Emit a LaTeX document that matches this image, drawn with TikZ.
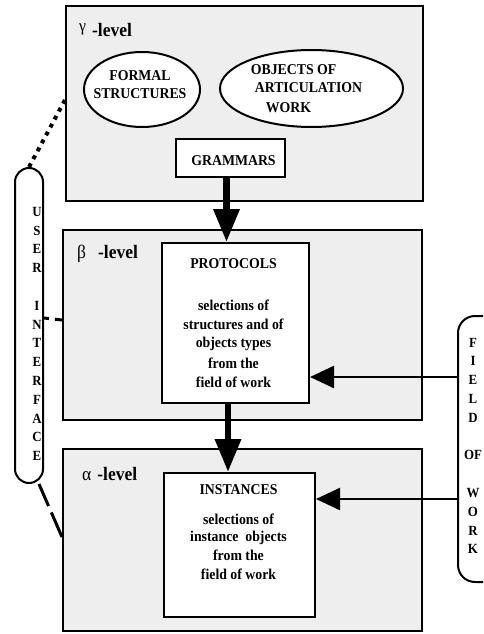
\documentclass[tikz,border=0pt]{standalone}
\usepackage{fontspec}
\setmainfont{Liberation Serif}[FakeStretch=0.92]
\usetikzlibrary{arrows.meta,shapes.geometric}
\definecolor{levelgray}{HTML}{EEEEEE}
\begin{document}
\begin{tikzpicture}[x=1pt,y=-1pt,
  every node/.style={inner sep=0pt},
  levelbox/.style={draw, line width=2pt, fill=levelgray},
  wbox/.style={draw, line width=2pt, fill=white},
  oval/.style={ellipse, draw, line width=2pt, fill=white},
  txt/.style={font=\bfseries\fontsize{15}{18.5}\selectfont, align=center},
  levtxt/.style={font=\bfseries\fontsize{19}{19}\selectfont, anchor=base west},
  pill/.style={draw, line width=2pt, fill=white, rounded corners=14pt},
  letters/.style={font=\bfseries\fontsize{14}{18.8}\selectfont, align=center},
  mainarrow/.style={line width=6.5pt, -{Triangle[length=33pt,width=25pt]}},
  sidearrow/.style={line width=2.5pt, -{Triangle[length=24pt,width=22pt]}},
  link/.style={line width=3pt}
]
\useasboundingbox (0,0) rectangle (483,634);
\clip (0,0) rectangle (483,634);

% level boxes
\node[levelbox, minimum width=357pt, minimum height=195pt] (gamma) at (244.5,103.5) {};
\node[levelbox, minimum width=359pt, minimum height=190pt] (beta) at (242.5,325) {};
\node[levelbox, minimum width=359pt, minimum height=182pt] (alpha) at (242.5,540) {};

\node[levtxt] (glab) at (79,37) {\raisebox{5pt}{\mdseries\fontsize{17}{17}\selectfont γ}\hspace{6pt}-level};
\node[levtxt] (blab) at (77,258) {{\mdseries β}\hspace{12pt}-level};
\node[levtxt] (alab) at (82,480) {{\mdseries α}\hspace{6pt}-level};

% gamma contents
\node[oval, minimum width=116pt, minimum height=75pt,
      label={[txt, xshift=-2pt, yshift=5pt]center:FORMAL\\STRUCTURES}] (formal) at (142,89.5) {};
\node[oval, minimum width=183pt, minimum height=77pt,
      label={[txt, align=left, xshift=-5pt, yshift=0pt]center:OBJECTS OF\\\hspace{4pt}ARTICULATION\\[1.5pt]\hspace{15pt}WORK}] (objects) at (311.5,88.5) {};
\node[wbox, minimum width=109pt, minimum height=38pt,
      label={[txt, xshift=3pt, yshift=-3pt]center:GRAMMARS}] (gram) at (230.5,158) {};

% beta contents
\node[wbox, minimum width=147pt, minimum height=160pt,
      label={[txt, xshift=-2pt, yshift=0pt]center:PROTOCOLS\\[23.5pt]selections of\\structures and of\\objects types\\[2.5pt]from the\\field of work}] (proto) at (235.5,323) {};

% alpha contents
\node[wbox, minimum width=151pt, minimum height=144pt,
      label={[txt, xshift=-1pt, yshift=12.5pt]center:INSTANCES\\[11.5pt]selections of\\[-1.5pt]instance\ \ objects\\[0.5pt]from the\\[0.5pt]field of work}] (inst) at (239.5,545) {};

% side pills
\node[pill, minimum width=28pt, minimum height=315pt,
      label={[letters, xshift=8pt, yshift=-8.5pt]center:U\\S\\E\\R\\[18.8pt]I\\N\\T\\E\\R\\F\\A\\C\\E}] (ui) at (29,325.5) {};
\node[pill, rounded corners=17pt, minimum width=44pt, minimum height=266pt,
      label={[letters, xshift=-7pt, yshift=3pt]center:F\\I\\E\\L\\D\\[18.8pt]OF\\[18.8pt]W\\O\\R\\K}] (fow) at (480,449) {};

% main arrows
\coordinate (a1) at ([xshift=-4pt]gram.south);
\draw[mainarrow] (a1) -- (a1 |- proto.north);
\coordinate (a2) at ([xshift=-7.5pt]proto.south);
\draw[mainarrow] (a2) -- (a2 |- inst.north);

% side arrows
\coordinate (pe) at ([yshift=-54pt]proto.east);
\draw[sidearrow] (pe -| fow.west) -- (pe);
\coordinate (ie) at ([yshift=46pt]inst.east);
\draw[sidearrow] (ie -| fow.west) -- (ie);

% links from user interface
\coordinate (g1) at ([yshift=3.5pt]gamma.west);
\draw[line width=4pt, dash pattern=on 4pt off 5pt] (ui.north) -- (g1);
\coordinate (u2) at ([yshift=7.5pt]ui.east);
\coordinate (b2) at ([yshift=5pt]beta.west);
\draw[link, dash pattern=on 5pt off 6pt on 20pt] (u2) -- (b2);
\coordinate (u3) at ([xshift=10pt]ui.south);
\coordinate (l3) at ([yshift=3pt]alpha.west);
\draw[link, dash pattern=on 24pt off 7pt on 30pt] (u3) -- (l3);
\end{tikzpicture}
\end{document}
